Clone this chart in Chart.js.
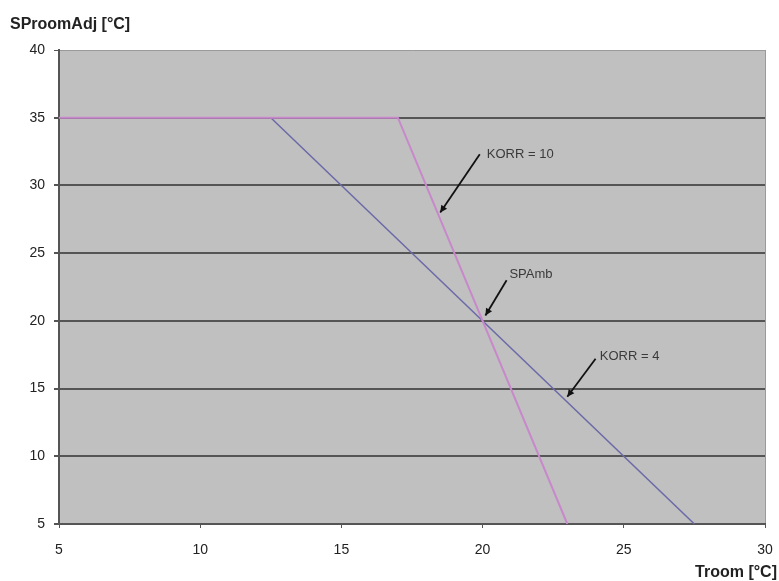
<!DOCTYPE html>
<html>
<head>
<meta charset="utf-8">
<script src="https://cdn.jsdelivr.net/npm/chart.js@4"></script>
<style>
  html, body { margin: 0; padding: 0; background: #fff; }
  #wrap { width: 779px; height: 581px; }
</style>
</head>
<body>
<div id="wrap"><canvas id="chart"></canvas></div>
<script>
// Dados
const korr10X = [5, 17, 23];
const korr10Y = [35, 35, 5];
const korr4X = [12.5, 27.5];
const korr4Y = [35, 5];

const xTicks = [5, 10, 15, 20, 25, 30];
const yTicks = [5, 10, 15, 20, 25, 30, 35, 40];

// Anotações: texto, posição do texto, ponta da seta
const notes = [
    { text: 'KORR = 10', tx: 20.15, ty: 32.3, fx: 19.9, fy: 32.3, hx: 18.5, hy: 28.0 },
    { text: 'SPAmb', tx: 20.95, ty: 23.4, fx: 20.85, fy: 23.0, hx: 20.1, hy: 20.4 },
    { text: 'KORR = 4', tx: 24.15, ty: 17.4, fx: 24.0, fy: 17.2, hx: 23.0, hy: 14.4 }
];

function toPoints(xs, ys) {
    return xs.map((x, i) => ({ x: x, y: ys[i] }));
}

// Fundo cinza da área do gráfico
const bgPlugin = {
    id: 'bgPlugin',
    beforeDraw(chart) {
        const a = chart.chartArea;
        const ctx = chart.ctx;
        ctx.save();
        ctx.fillStyle = '#c0c0c0';
        ctx.fillRect(a.left, a.top, a.right - a.left, a.bottom - a.top);
        ctx.restore();
    }
};

// Setas, textos e títulos dos eixos
const notesPlugin = {
    id: 'notesPlugin',
    afterDatasetsDraw(chart) {
        const ctx = chart.ctx;
        const xs = chart.scales.x;
        const ys = chart.scales.y;
        ctx.save();
        notes.forEach(n => {
            const fx = xs.getPixelForValue(n.fx), fy = ys.getPixelForValue(n.fy);
            const hx = xs.getPixelForValue(n.hx), hy = ys.getPixelForValue(n.hy);
            ctx.strokeStyle = '#111';
            ctx.lineWidth = 1.8;
            ctx.beginPath();
            ctx.moveTo(fx, fy);
            ctx.lineTo(hx, hy);
            ctx.stroke();
            // ponta da seta
            const ang = Math.atan2(hy - fy, hx - fx);
            const len = 7, w = 3.5;
            ctx.fillStyle = '#111';
            ctx.beginPath();
            ctx.moveTo(hx, hy);
            ctx.lineTo(hx - len * Math.cos(ang) + w * Math.sin(ang), hy - len * Math.sin(ang) - w * Math.cos(ang));
            ctx.lineTo(hx - len * Math.cos(ang) - w * Math.sin(ang), hy - len * Math.sin(ang) + w * Math.cos(ang));
            ctx.closePath();
            ctx.fill();

            ctx.fillStyle = '#3a3a3a';
            ctx.font = '13px "Liberation Sans", Arial, sans-serif';
            ctx.textBaseline = 'middle';
            ctx.textAlign = 'left';
            ctx.fillText(n.text, xs.getPixelForValue(n.tx), ys.getPixelForValue(n.ty));
        });

        ctx.fillStyle = '#222';
        ctx.font = 'bold 16px "Liberation Sans", Arial, sans-serif';
        ctx.textBaseline = 'alphabetic';
        ctx.textAlign = 'left';
        ctx.fillText('SProomAdj [°C]', 10, 29);
        ctx.textAlign = 'right';
        ctx.fillText('Troom [°C]', 777, 577);
        ctx.restore();
    }
};

new Chart(document.getElementById('chart'), {
    type: 'scatter',
    data: {
        datasets: [
            {
                label: 'KORR = 4',
                data: toPoints(korr4X, korr4Y),
                showLine: true,
                borderColor: '#6b6aa8',
                borderWidth: 1.5,
                pointRadius: 0,
                order: 2
            },
            {
                label: 'KORR = 10',
                data: toPoints(korr10X, korr10Y),
                showLine: true,
                borderColor: '#c888cb',
                borderWidth: 2,
                pointRadius: 0,
                order: 1
            }
        ]
    },
    options: {
        responsive: true,
        maintainAspectRatio: false,
        animation: false,
        layout: { padding: { left: 0, right: 14, top: 50, bottom: 0 } },
        plugins: {
            legend: { display: false },
            tooltip: { enabled: false }
        },
        scales: {
            x: {
                type: 'linear',
                min: 5,
                max: 30,
                afterBuildTicks(scale) {
                    scale.ticks = xTicks.map(v => ({ value: v }));
                },
                afterFit(scale) {
                    scale.height = 57;
                    scale.paddingLeft = 0;
                    scale.paddingRight = 0;
                },
                border: { color: '#555', width: 2 },
                grid: {
                    drawOnChartArea: true,
                    color: c => (c.tick && c.tick.value === 30 ? '#9a9a9a' : 'rgba(0,0,0,0)'),
                    tickColor: '#555',
                    tickLength: 4,
                    lineWidth: 1
                },
                ticks: {
                    color: '#222',
                    padding: 14,
                    font: { family: '"Liberation Sans", Arial, sans-serif', size: 14 }
                }
            },
            y: {
                type: 'linear',
                min: 5,
                max: 40,
                afterBuildTicks(scale) {
                    scale.ticks = yTicks.map(v => ({ value: v }));
                },
                afterFit(scale) { scale.width = 59; },
                border: { color: '#555', width: 2 },
                grid: {
                    color: c => {
                        if (!c.tick) return '#555';
                        if (c.tick.value === 40) return '#9a9a9a';
                        return '#555';
                    },
                    lineWidth: c => (c.tick && c.tick.value === 40 ? 1 : 2),
                    tickColor: '#555',
                    tickLength: 5
                },
                ticks: {
                    color: '#222',
                    padding: 9,
                    font: { family: '"Liberation Sans", Arial, sans-serif', size: 14 }
                }
            }
        }
    },
    plugins: [bgPlugin, notesPlugin]
});
</script>
</body>
</html>
